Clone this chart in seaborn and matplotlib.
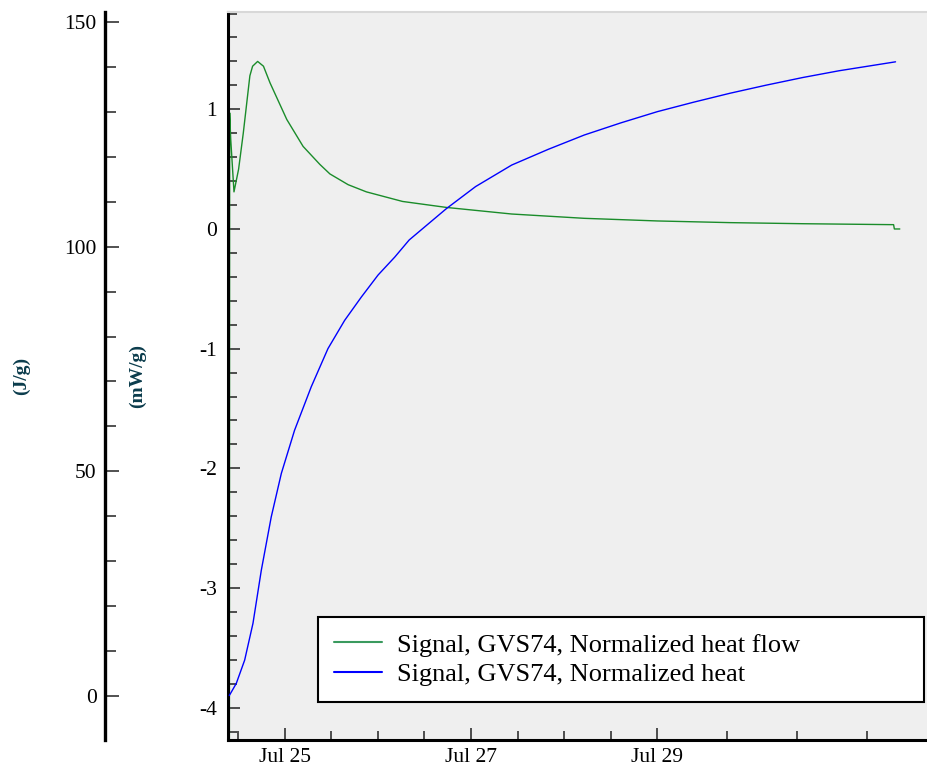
import pandas as pd
import matplotlib.pyplot as plt
import matplotlib.dates as mdates
from matplotlib.ticker import MultipleLocator, FixedLocator
import seaborn as sns

start = pd.Timestamp("2023-07-24 09:47")

flow_hours = [0.0, 0.1, 0.37, 1.21, 2.4, 3.6, 5.3, 6.0, 7.3, 8.8, 10.5, 14.8,
              19.0, 23.3, 25.9, 30.6, 35.3, 44.6, 55.9, 72.7, 91.4, 110.2,
              128.9, 147.6, 171.0, 171.2, 172.6]
flow_values = [-6.0, 0.97, 0.75, 0.31, 0.50, 0.80, 1.28, 1.36, 1.40, 1.36, 1.22, 0.915,
               0.69, 0.54, 0.46, 0.37, 0.31, 0.23, 0.18, 0.125, 0.089, 0.067,
               0.053, 0.044, 0.036, 0.0, 0.0]

heat_hours = [0.0, 1.8, 3.96, 6.1, 8.24, 10.8, 13.4, 16.8, 21.1, 25.4, 29.7, 34.0,
              38.3, 42.6, 46.3, 55.9, 63.4, 72.7, 82.1, 91.4, 100.8, 110.2,
              119.5, 128.9, 138.2, 147.6, 156.9, 171.5]
heat_values = [0.0, 2.7, 7.9, 16.1, 27.9, 39.8, 49.5, 59.1, 68.8, 77.3, 83.6, 88.8,
               93.7, 97.7, 101.5, 108.5, 113.4, 118.2, 121.7, 124.9, 127.6, 130.1,
               132.2, 134.2, 136.0, 137.7, 139.2, 141.2]

flow_label = "Signal, GVS74, Normalized heat flow"
heat_label = "Signal, GVS74, Normalized heat"
major_days = ["2023-07-25", "2023-07-27", "2023-07-29"]

flow_time = start + pd.to_timedelta(flow_hours, unit="h")
heat_time = start + pd.to_timedelta(heat_hours, unit="h")

sns.set_theme(style="ticks")
plt.rcParams["font.family"] = ["Liberation Serif", "DejaVu Serif"]
plt.rcParams["axes.unicode_minus"] = False
plt.rcParams["text.color"] = "black"

fig = plt.figure(figsize=(9.27, 7.69), dpi=100)
ax = fig.add_axes([228 / 927, 29 / 769, 699 / 927, 728 / 769])
ax.set_facecolor("#efefef")
ax2 = ax.twinx()

sns.lineplot(x=flow_time, y=flow_values, ax=ax, color="#1a8c2a", linewidth=1.0,
             label=flow_label, sort=False)
sns.lineplot(x=heat_time, y=heat_values, ax=ax2, color="#0000ff", linewidth=1.0,
             label=heat_label, sort=False)

# x axis: dates
ax.set_xlim(start - pd.Timedelta(hours=0.33), start + pd.Timedelta(hours=179.6))
ax.xaxis.set_major_locator(FixedLocator(mdates.date2num(pd.to_datetime(major_days))))
ax.xaxis.set_major_formatter(mdates.DateFormatter("%b %d"))
minor = pd.to_datetime(["2023-07-24 12:00", "2023-07-25 12:00", "2023-07-26 00:00",
                        "2023-07-26 12:00", "2023-07-27 12:00", "2023-07-28 00:00",
                        "2023-07-28 12:00", "2023-07-29 18:00", "2023-07-30 12:00",
                        "2023-07-31 06:00"])
ax.xaxis.set_minor_locator(FixedLocator(mdates.date2num(minor)))
ax.set_xlabel("")

# inner y axis (mW/g)
ax.set_ylim(-4.27, 1.813)
ax.yaxis.set_major_locator(MultipleLocator(1))
ax.yaxis.set_minor_locator(MultipleLocator(0.2))
ax.set_ylabel("(mW/g)", fontsize=14, fontweight="bold", color="#0b3c4c")
ax.yaxis.set_label_coords(-0.117, 0.5)

# outer y axis (J/g)
ax2.set_ylim(-9.9, 152.3)
ax2.yaxis.set_major_locator(MultipleLocator(50))
ax2.yaxis.set_minor_locator(MultipleLocator(10))
ax2.spines["left"].set_visible(True)
ax2.spines["left"].set_position(("axes", -123 / 699))
ax2.yaxis.set_ticks_position("left")
ax2.yaxis.set_label_position("left")
ax2.set_ylabel("(J/g)", fontsize=14, fontweight="bold", color="#0b3c4c")
ax2.yaxis.set_label_coords(-0.283, 0.5)

ax.spines["right"].set_visible(False)
for s in ["right", "top", "bottom"]:
    ax2.spines[s].set_visible(False)
ax.spines["top"].set_color("#d8d8d8")
ax.spines["top"].set_linewidth(1.5)
for s in ["left", "bottom"]:
    ax.spines[s].set_color("black")
    ax.spines[s].set_linewidth(2.2)
ax2.spines["left"].set_color("black")
ax2.spines["left"].set_linewidth(2.4)

ax.tick_params(axis="both", which="major", direction="in", length=8.6, width=1.1,
               color="#222222", labelsize=15.5, labelcolor="black")
ax.tick_params(axis="both", which="minor", direction="in", length=6.5, width=1.1,
               color="#222222")
ax.tick_params(axis="y", which="major", pad=8)
ax.tick_params(axis="x", which="major", pad=6)
ax2.tick_params(axis="y", which="major", direction="in", length=10, width=1.1,
                color="#222222", labelsize=15.5, labelcolor="black", pad=6)
ax2.tick_params(axis="y", which="minor", direction="in", length=8, width=1.1,
                color="#222222")

# combined legend
h1, l1 = ax.get_legend_handles_labels()
h2, l2 = ax2.get_legend_handles_labels()
ax.get_legend().remove()
ax2.get_legend().remove()
leg = ax2.legend(h1 + h2, l1 + l2, loc="lower left",
                 bbox_to_anchor=(0.1283, 0.0526, 0.8674, 0.1177), mode="expand",
                 borderaxespad=0, fontsize=19, frameon=True, fancybox=False,
                 edgecolor="black", facecolor="white", framealpha=1,
                 borderpad=0.6, handlelength=1.82, handletextpad=0.6,
                 labelspacing=0.22, labelcolor="black")
leg.get_frame().set_linewidth(1.5)
leg.get_lines()[0].set_color("#3a9a5e")
leg.get_lines()[0].set_linewidth(1.5)
leg.get_lines()[1].set_linewidth(1.5)

fig.savefig("out.png", dpi=100)
